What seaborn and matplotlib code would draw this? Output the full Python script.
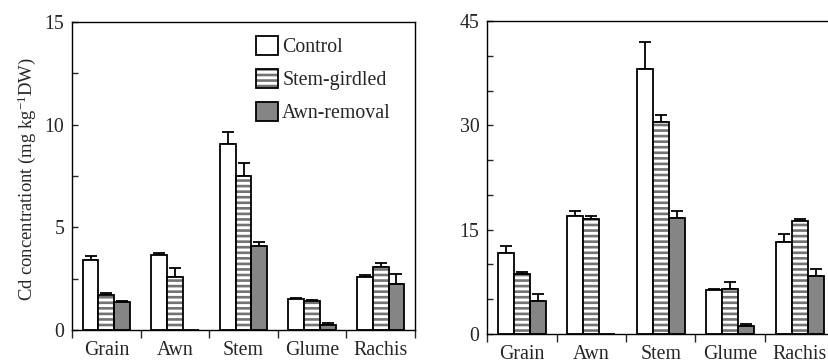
import numpy as np
import pandas as pd
import matplotlib
matplotlib.use("Agg")
import matplotlib.pyplot as plt
import matplotlib.patches as mpatches
from matplotlib.legend_handler import HandlerTuple
from matplotlib.ticker import MultipleLocator, FixedLocator
import seaborn as sns

# Plant parts and treatments
parts = ["Grain", "Awn", "Stem", "Glume", "Rachis"]
treatments = ["Control", "Stem-girdled", "Awn-removal"]

# Panel 1: Cd concentration (mg kg-1 DW)
p1_control = [3.43, 3.67, 9.04, 1.51, 2.60]
p1_girdled = [1.72, 2.57, 7.48, 1.43, 3.09]
p1_awnrem = [1.38, 0.0, 4.11, 0.24, 2.23]
p1_control_se = [0.15, 0.08, 0.58, 0.03, 0.06]
p1_girdled_se = [0.06, 0.45, 0.67, 0.03, 0.15]
p1_awnrem_se = [0.05, 0.0, 0.18, 0.10, 0.50]

# Panel 2: Cd concentration (mg kg-1 DW)
p2_control = [11.7, 16.96, 38.1, 6.33, 13.18]
p2_girdled = [8.67, 16.53, 30.48, 6.52, 16.29]
p2_awnrem = [4.79, 0.0, 16.72, 1.20, 8.34]
p2_control_se = [1.0, 0.77, 3.9, 0.2, 1.24]
p2_girdled_se = [0.2, 0.43, 1.05, 1.0, 0.2]
p2_awnrem_se = [0.96, 0.0, 1.0, 0.3, 1.05]

colors = {"Control": "white", "Stem-girdled": "white", "Awn-removal": "#858585"}
HATCH = "---"
HATCH_COLOR = "#737373"
FS = 14.3

sns.set_style("ticks")
plt.rcParams["font.family"] = ["Liberation Serif", "DejaVu Serif"]
plt.rcParams["mathtext.fontset"] = "custom"
plt.rcParams["mathtext.rm"] = "Liberation Serif"
plt.rcParams["mathtext.it"] = "Liberation Serif:italic"
plt.rcParams["font.size"] = FS
plt.rcParams["hatch.linewidth"] = 1.9


def long_frame(vals):
    rows = []
    for t, v in zip(treatments, vals):
        for p, y in zip(parts, v):
            rows.append({"part": p, "treatment": t, "value": y})
    return pd.DataFrame(rows)


def hatched_with_outline(ax, bar):
    """Stripes in grey, outline in black on top."""
    bar.set_hatch(HATCH)
    bar.set_edgecolor(HATCH_COLOR)
    bar.set_linewidth(0)
    outline = mpatches.Rectangle((bar.get_x(), bar.get_y()), bar.get_width(),
                                 bar.get_height(), fill=False,
                                 edgecolor="black", linewidth=1.3,
                                 zorder=bar.get_zorder() + 0.1)
    ax.add_patch(outline)


def draw_panel(ax, vals, errs, ymax, major, minor):
    df = long_frame(vals)
    sns.barplot(data=df, x="part", y="value", hue="treatment",
                order=parts, hue_order=treatments, palette=colors,
                width=0.69, gap=0, edgecolor="black", linewidth=1.3,
                errorbar=None, legend=False, ax=ax, zorder=2)
    for t, cont, err in zip(treatments, ax.containers, errs):
        xs, hs, es = [], [], []
        for bar, e in zip(cont.patches, err):
            if t == "Stem-girdled":
                hatched_with_outline(ax, bar)
            if e > 0:
                xs.append(bar.get_x() + bar.get_width() / 2)
                hs.append(bar.get_height())
                es.append(e)
        ax.errorbar(xs, hs, yerr=[np.zeros(len(es)), es], fmt="none",
                    ecolor="black", elinewidth=1.3, capsize=4.5,
                    capthick=1.3, zorder=1)
    ax.set_xlim(-0.5, len(parts) - 0.5)
    ax.set_ylim(0, ymax)
    ax.yaxis.set_major_locator(MultipleLocator(major))
    ax.yaxis.set_minor_locator(MultipleLocator(minor))
    ax.xaxis.set_minor_locator(FixedLocator(np.arange(-0.5, len(parts), 1.0)))
    ax.tick_params(axis="y", which="both", direction="in", length=4,
                   width=1.0, pad=5.5, labelsize=FS)
    ax.tick_params(axis="x", which="major", length=0, pad=8, labelsize=FS)
    ax.tick_params(axis="x", which="minor", direction="out", length=6,
                   width=1.0)
    ax.set_xlabel("")
    ax.set_ylabel("")
    for s in ax.spines.values():
        s.set_visible(True)
        s.set_linewidth(1.0)
        s.set_color("black")


fig = plt.figure(figsize=(8.29, 3.64), dpi=100)
ax1 = fig.add_axes([0.0869, 0.0934, 0.5006 - 0.0869, 0.9396 - 0.0934])
ax2 = fig.add_axes([0.5875, 0.0824, 1.0066 - 0.5875, 0.9423 - 0.0824])

draw_panel(ax1, [p1_control, p1_girdled, p1_awnrem],
           [p1_control_se, p1_girdled_se, p1_awnrem_se], 15, 5, 2.5)
draw_panel(ax2, [p2_control, p2_girdled, p2_awnrem],
           [p2_control_se, p2_girdled_se, p2_awnrem_se], 45, 15, 5)

ax1.set_ylabel("Cd concentrationt (mg kg$^{\\mathrm{-1}}$DW)", fontsize=13.4)
ax1.yaxis.set_label_coords(-0.1, 0.49)

handles = []
for t in treatments:
    if t == "Stem-girdled":
        stripes = mpatches.Patch(facecolor="white", edgecolor=HATCH_COLOR,
                                 linewidth=0, hatch=HATCH)
        frame = mpatches.Patch(fill=False, edgecolor="black", linewidth=1.3)
        handles.append((stripes, frame))
    else:
        handles.append(mpatches.Patch(facecolor=colors[t], edgecolor="black",
                                      linewidth=1.3))
ax1.legend(handles=handles, labels=treatments, loc="upper left",
           bbox_to_anchor=(0.535, 0.955),
           handler_map={tuple: HandlerTuple(ndivide=1, pad=0)},
           frameon=False, fontsize=FS, handlelength=1.14, handleheight=1.08,
           handletextpad=0.2, labelspacing=0.6, borderpad=0, borderaxespad=0)

fig.savefig("out.png", dpi=100)
